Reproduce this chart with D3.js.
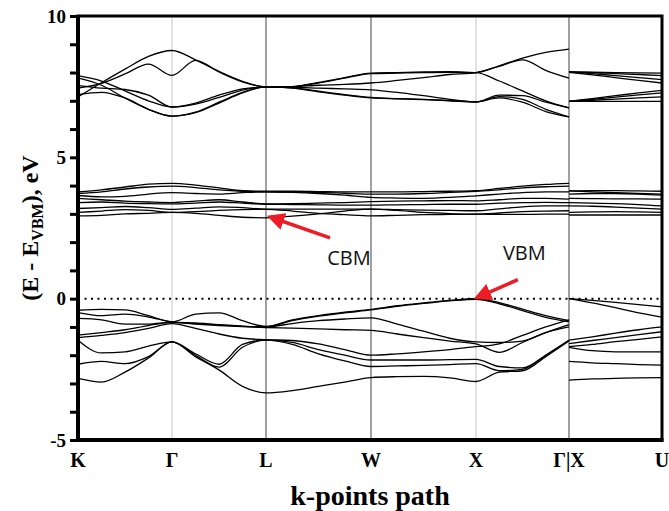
<!DOCTYPE html>
<html>
<head>
<meta charset="utf-8">
<script src="https://cdn.jsdelivr.net/npm/d3@7"></script>
<style>
  body { margin: 0; background: #fff; }
  svg { display: block; }
</style>
</head>
<body>
<div id="chart"></div>
<script>
// high-symmetry points along the path
const kTicks = [0, 1, 2, 3, 4, 5, 6];
const kLabels = ["K", "Γ", "L", "W", "X", "Γ|X", "U"];
// k grid of the main path K-Γ-L-W-X-Γ and of the separate X-U piece
const kPath = [0, 0.25, 0.5, 0.75, 1, 1.25, 1.5, 1.75, 2, 2.25, 2.5, 2.75, 3, 3.25, 3.5, 3.75, 4, 4.25, 4.5, 4.75, 5];
const kXU = [5, 5.25, 5.5, 5.75, 6];
const yTicks = [-5, 0, 5, 10];

// upper conduction bands (eV), path K..Γ
const upperBands = [
  [7.14, 7.64, 8.12, 8.57, 8.78, 8.45, 8.04, 7.69, 7.49, 7.50, 7.65, 7.82, 7.98, 8.00, 8.02, 8.03, 8.00, 8.24, 8.51, 8.71, 8.83],
  [7.45, 7.62, 7.95, 8.30, 7.90, 8.43, 8.02, 7.67, 7.49, 7.50, 7.55, 7.58, 7.63, 7.72, 7.82, 7.93, 8.00, 8.22, 8.45, 8.08, 7.80],
  [7.89, 7.70, 7.35, 7.00, 6.78, 6.88, 7.12, 7.38, 7.49, 7.48, 7.45, 7.42, 7.39, 7.30, 7.18, 7.05, 6.96, 7.20, 7.18, 6.95, 6.75],
  [7.81, 7.55, 7.10, 6.70, 6.46, 6.60, 6.95, 7.30, 7.49, 7.45, 7.32, 7.20, 7.10, 7.07, 7.04, 7.00, 6.96, 7.15, 7.05, 6.70, 6.43],
  [7.54, 7.45, 7.40, 7.20, 6.78, 6.92, 7.20, 7.42, 7.49, 7.50, 7.63, 7.80, 7.96, 7.98, 8.00, 8.01, 8.00, 7.70, 7.35, 7.00, 6.75],
  [7.22, 7.30, 7.10, 6.70, 6.46, 6.58, 6.92, 7.28, 7.49, 7.46, 7.34, 7.22, 7.12, 7.08, 7.05, 7.01, 6.96, 7.10, 6.95, 6.62, 6.43]
];
const upperBandsXU = [
  [8.02, 8.01, 8.00, 7.99, 7.98],
  [8.02, 8.00, 7.96, 7.93, 7.89],
  [8.02, 7.96, 7.89, 7.82, 7.75],
  [8.01, 7.92, 7.82, 7.72, 7.63],
  [6.98, 7.08, 7.18, 7.28, 7.37],
  [6.98, 7.05, 7.13, 7.21, 7.28],
  [6.98, 7.02, 7.06, 7.10, 7.14],
  [6.98, 6.98, 6.98, 6.98, 6.98]
];

// lower conduction bands (eV)
const middleBands = [
  [3.78, 3.85, 3.95, 4.05, 4.08, 4.02, 3.92, 3.82, 3.80, 3.80, 3.79, 3.78, 3.78, 3.78, 3.79, 3.80, 3.82, 3.90, 3.98, 4.04, 4.08],
  [3.72, 3.78, 3.88, 3.95, 3.98, 3.93, 3.85, 3.80, 3.78, 3.77, 3.76, 3.73, 3.70, 3.70, 3.72, 3.76, 3.80, 3.85, 3.92, 3.96, 3.98],
  [3.65, 3.60, 3.62, 3.70, 3.75, 3.72, 3.70, 3.75, 3.78, 3.76, 3.72, 3.66, 3.58, 3.56, 3.55, 3.58, 3.64, 3.70, 3.75, 3.78, 3.78],
  [3.55, 3.50, 3.45, 3.42, 3.40, 3.45, 3.50, 3.42, 3.35, 3.36, 3.38, 3.40, 3.43, 3.45, 3.46, 3.47, 3.46, 3.50, 3.55, 3.55, 3.52],
  [3.40, 3.42, 3.38, 3.36, 3.35, 3.38, 3.42, 3.38, 3.34, 3.33, 3.32, 3.31, 3.31, 3.32, 3.33, 3.34, 3.34, 3.38, 3.40, 3.41, 3.40],
  [3.19, 3.22, 3.26, 3.22, 3.16, 3.20, 3.25, 3.22, 3.17, 3.17, 3.17, 3.17, 3.17, 3.15, 3.13, 3.12, 3.11, 3.18, 3.25, 3.28, 3.28],
  [3.05, 3.10, 3.15, 3.12, 3.05, 3.08, 3.12, 3.15, 3.16, 3.10, 3.02, 2.97, 2.93, 2.95, 2.97, 2.98, 2.99, 3.03, 3.08, 3.10, 3.11],
  [2.93, 2.95, 3.00, 3.02, 3.05, 3.02, 2.95, 2.88, 2.86, 2.92, 3.00, 3.10, 3.17, 3.12, 3.05, 3.01, 2.99, 2.98, 2.98, 2.99, 2.99]
];
const middleBandsXU = [
  [3.81, 3.82, 3.82, 3.81, 3.80],
  [3.81, 3.78, 3.75, 3.72, 3.70],
  [3.70, 3.72, 3.72, 3.70, 3.66],
  [3.55, 3.54, 3.53, 3.53, 3.52],
  [3.40, 3.38, 3.36, 3.33, 3.28],
  [3.28, 3.27, 3.24, 3.20, 3.17],
  [3.05, 3.07, 3.08, 3.07, 3.05],
  [2.96, 2.96, 2.96, 2.96, 2.96]
];

// valence bands (eV)
const valenceBands = [
  [-0.41, -0.38, -0.40, -0.60, -0.82, -0.55, -0.50, -0.78, -0.98, -0.75, -0.60, -0.48, -0.38, -0.25, -0.15, -0.06, 0.00, -0.14, -0.37, -0.60, -0.78],
  [-0.49, -0.60, -0.55, -0.65, -0.82, -0.86, -0.92, -0.97, -1.00, -0.78, -0.62, -0.50, -0.40, -0.27, -0.17, -0.08, -0.02, -0.18, -0.42, -0.66, -0.82],
  [-0.70, -0.75, -0.90, -0.90, -0.84, -0.88, -0.93, -0.98, -1.00, -0.88, -0.78, -0.72, -0.68, -0.90, -1.15, -1.40, -1.53, -1.55, -1.50, -1.20, -0.92],
  [-1.29, -1.20, -1.10, -0.95, -0.84, -0.90, -0.95, -0.99, -1.02, -1.04, -1.07, -1.10, -1.12, -1.25, -1.38, -1.50, -1.60, -1.90, -1.55, -1.20, -1.00],
  [-1.38, -1.30, -1.20, -1.05, -0.88, -1.05, -1.25, -1.40, -1.45, -1.48, -1.60, -1.80, -2.00, -1.95, -1.88, -1.80, -1.70, -1.60, -1.30, -1.00, -0.75],
  [-1.47, -1.92, -1.88, -1.68, -1.53, -1.95, -2.32, -1.62, -1.46, -1.55, -1.80, -2.00, -2.17, -2.17, -2.17, -2.16, -2.15, -2.40, -2.45, -2.00, -1.47],
  [-2.32, -2.22, -2.30, -2.05, -1.53, -2.00, -2.42, -1.72, -1.47, -1.62, -1.95, -2.20, -2.40, -2.38, -2.36, -2.33, -2.30, -2.55, -2.50, -2.00, -1.47],
  [-2.82, -2.95, -2.60, -2.10, -1.53, -2.05, -2.52, -3.10, -3.33, -3.25, -3.10, -2.95, -2.79, -2.76, -2.75, -2.80, -2.93, -2.60, -2.55, -2.05, -1.50]
];
const valenceBandsXU = [
  [0.00, -0.06, -0.13, -0.21, -0.29],
  [0.00, -0.15, -0.32, -0.50, -0.65],
  [-1.47, -1.35, -1.22, -1.10, -1.00],
  [-1.59, -1.48, -1.38, -1.27, -1.17],
  [-1.70, -1.62, -1.52, -1.44, -1.35],
  [-1.72, -1.84, -1.88, -1.88, -1.88],
  [-2.22, -2.27, -2.30, -2.33, -2.35],
  [-2.88, -2.84, -2.82, -2.80, -2.79]
];

// arrows for the band edges: [k, E] of tip, tail and text
const annoLabels = ["CBM", "VBM"];
const annoTips = [[2.04, 2.89], [4.01, 0.04]];
const annoTails = [[2.61, 2.15], [4.45, 0.67]];
const annoText = [[2.79, 1.45], [4.52, 1.60]];

const width = 669, height = 511;
const margin = {top: 16, right: 7, bottom: 69, left: 78};

const svg = d3.select("#chart").append("svg")
    .attr("width", width)
    .attr("height", height);

const x = d3.scaleLinear()
    .domain(kTicks)
    .range([78, 172, 266, 371, 476, 569, 662]);
const y = d3.scaleLinear()
    .domain([-5, 10])
    .range([height - margin.bottom - 2, margin.top]);

const x0 = x(0), x1 = x(6), yTop = y(10), yBot = y(-5);

// vertical lines at the high-symmetry points
const lightPts = [1, 4];
svg.append("g")
  .selectAll("line")
  .data(kTicks.slice(1, -1))
  .join("line")
    .attr("x1", d => x(d)).attr("x2", d => x(d))
    .attr("y1", yTop).attr("y2", yBot)
    .attr("stroke", d => lightPts.includes(d) ? "#cfcfcf" : "#6e6e6e")
    .attr("stroke-width", d => lightPts.includes(d) ? 1.2 : 1.3);

// VBM level dotted line
svg.append("line")
    .attr("x1", x0).attr("x2", x1)
    .attr("y1", y(0)).attr("y2", y(0))
    .attr("stroke", "#000")
    .attr("stroke-width", 2)
    .attr("stroke-dasharray", "2,4.5");

// band lines
const line = d3.line()
    .x(d => x(d[0]))
    .y(d => y(d[1]))
    .curve(d3.curveMonotoneX);

const pathBands = [...upperBands, ...middleBands, ...valenceBands];
const xuBands = [...upperBandsXU, ...middleBandsXU, ...valenceBandsXU];

const bandG = svg.append("g")
    .attr("fill", "none")
    .attr("stroke", "#000")
    .attr("stroke-width", 1.3);

bandG.selectAll(".band-path")
  .data(pathBands)
  .join("path")
    .attr("class", "band-path")
    .attr("d", b => line(b.map((e, i) => [kPath[i], e])));

bandG.selectAll(".band-xu")
  .data(xuBands)
  .join("path")
    .attr("class", "band-xu")
    .attr("d", b => line(b.map((e, i) => [kXU[i], e])));

// frame
svg.append("rect")
    .attr("x", x0).attr("y", yTop)
    .attr("width", x1 - x0).attr("height", yBot - yTop)
    .attr("fill", "none")
    .attr("stroke", "#000")
    .attr("stroke-width", 3);

// y axis: major labels and minor ticks every 1 eV
const yAxis = d3.axisLeft(y)
    .tickValues(d3.range(-5, 11, 1))
    .tickSize(8)
    .tickPadding(4)
    .tickFormat(d => yTicks.includes(d) ? d : "");
const gy = svg.append("g")
    .attr("transform", `translate(${x0},0)`)
    .call(yAxis);
gy.select(".domain").attr("stroke-width", 4).attr("d", `M0,${yTop}V${yBot + 2}`);
gy.selectAll(".tick line").attr("stroke-width", 3);
gy.selectAll(".tick text")
    .attr("font-family", "'Liberation Serif', 'Times New Roman', serif")
    .attr("font-weight", "bold")
    .attr("font-size", 19)
    .attr("fill", "#000");

// bottom axis line
svg.append("line")
    .attr("x1", x0 - 2).attr("x2", x1 + 1.5)
    .attr("y1", yBot).attr("y2", yBot)
    .attr("stroke", "#000")
    .attr("stroke-width", 4);

// x tick labels
svg.append("g")
  .selectAll("text")
  .data(kTicks)
  .join("text")
    .attr("x", d => x(d))
    .attr("y", yBot + 27)
    .attr("text-anchor", "middle")
    .attr("font-family", "'Liberation Serif', 'Times New Roman', serif")
    .attr("font-weight", "bold")
    .attr("font-size", 20)
    .text((d, i) => kLabels[i]);

// axis titles
svg.append("text")
    .attr("x", (x0 + x1) / 2)
    .attr("y", 505)
    .attr("text-anchor", "middle")
    .attr("font-family", "'Liberation Serif', 'Times New Roman', serif")
    .attr("font-weight", "bold")
    .attr("font-size", 28)
    .text("k-points path");

const yTitle = svg.append("text")
    .attr("transform", `translate(38,${(yTop + yBot) / 2}) rotate(-90)`)
    .attr("text-anchor", "middle")
    .attr("font-family", "'Liberation Serif', 'Times New Roman', serif")
    .attr("font-weight", "bold")
    .attr("font-size", 24);
yTitle.append("tspan").text("(E - E");
yTitle.append("tspan").attr("font-size", 16).attr("dy", 5).text("VBM");
yTitle.append("tspan").attr("dy", -5).text("), eV");

// red arrows and labels
svg.append("defs").append("marker")
    .attr("id", "arrowhead")
    .attr("viewBox", "0 0 10 10")
    .attr("refX", 8).attr("refY", 5)
    .attr("markerWidth", 5).attr("markerHeight", 5)
    .attr("orient", "auto")
  .append("path")
    .attr("d", "M0,0L10,5L0,10Z")
    .attr("fill", "#ee1c24");

svg.append("g")
  .selectAll("line")
  .data(annoLabels)
  .join("line")
    .attr("x1", (d, i) => x(annoTails[i][0]))
    .attr("y1", (d, i) => y(annoTails[i][1]))
    .attr("x2", (d, i) => x(annoTips[i][0]))
    .attr("y2", (d, i) => y(annoTips[i][1]))
    .attr("stroke", "#ee1c24")
    .attr("stroke-width", 3.5)
    .attr("marker-end", "url(#arrowhead)");

svg.append("g")
  .selectAll("text")
  .data(annoLabels)
  .join("text")
    .attr("x", (d, i) => x(annoText[i][0]))
    .attr("y", (d, i) => y(annoText[i][1]))
    .attr("text-anchor", "middle")
    .attr("dy", "0.35em")
    .attr("font-family", "'Open Sans', 'Noto Sans', sans-serif")
    .attr("font-size", 20)
    .attr("fill", "#111")
    .text(d => d);
</script>
</body>
</html>
